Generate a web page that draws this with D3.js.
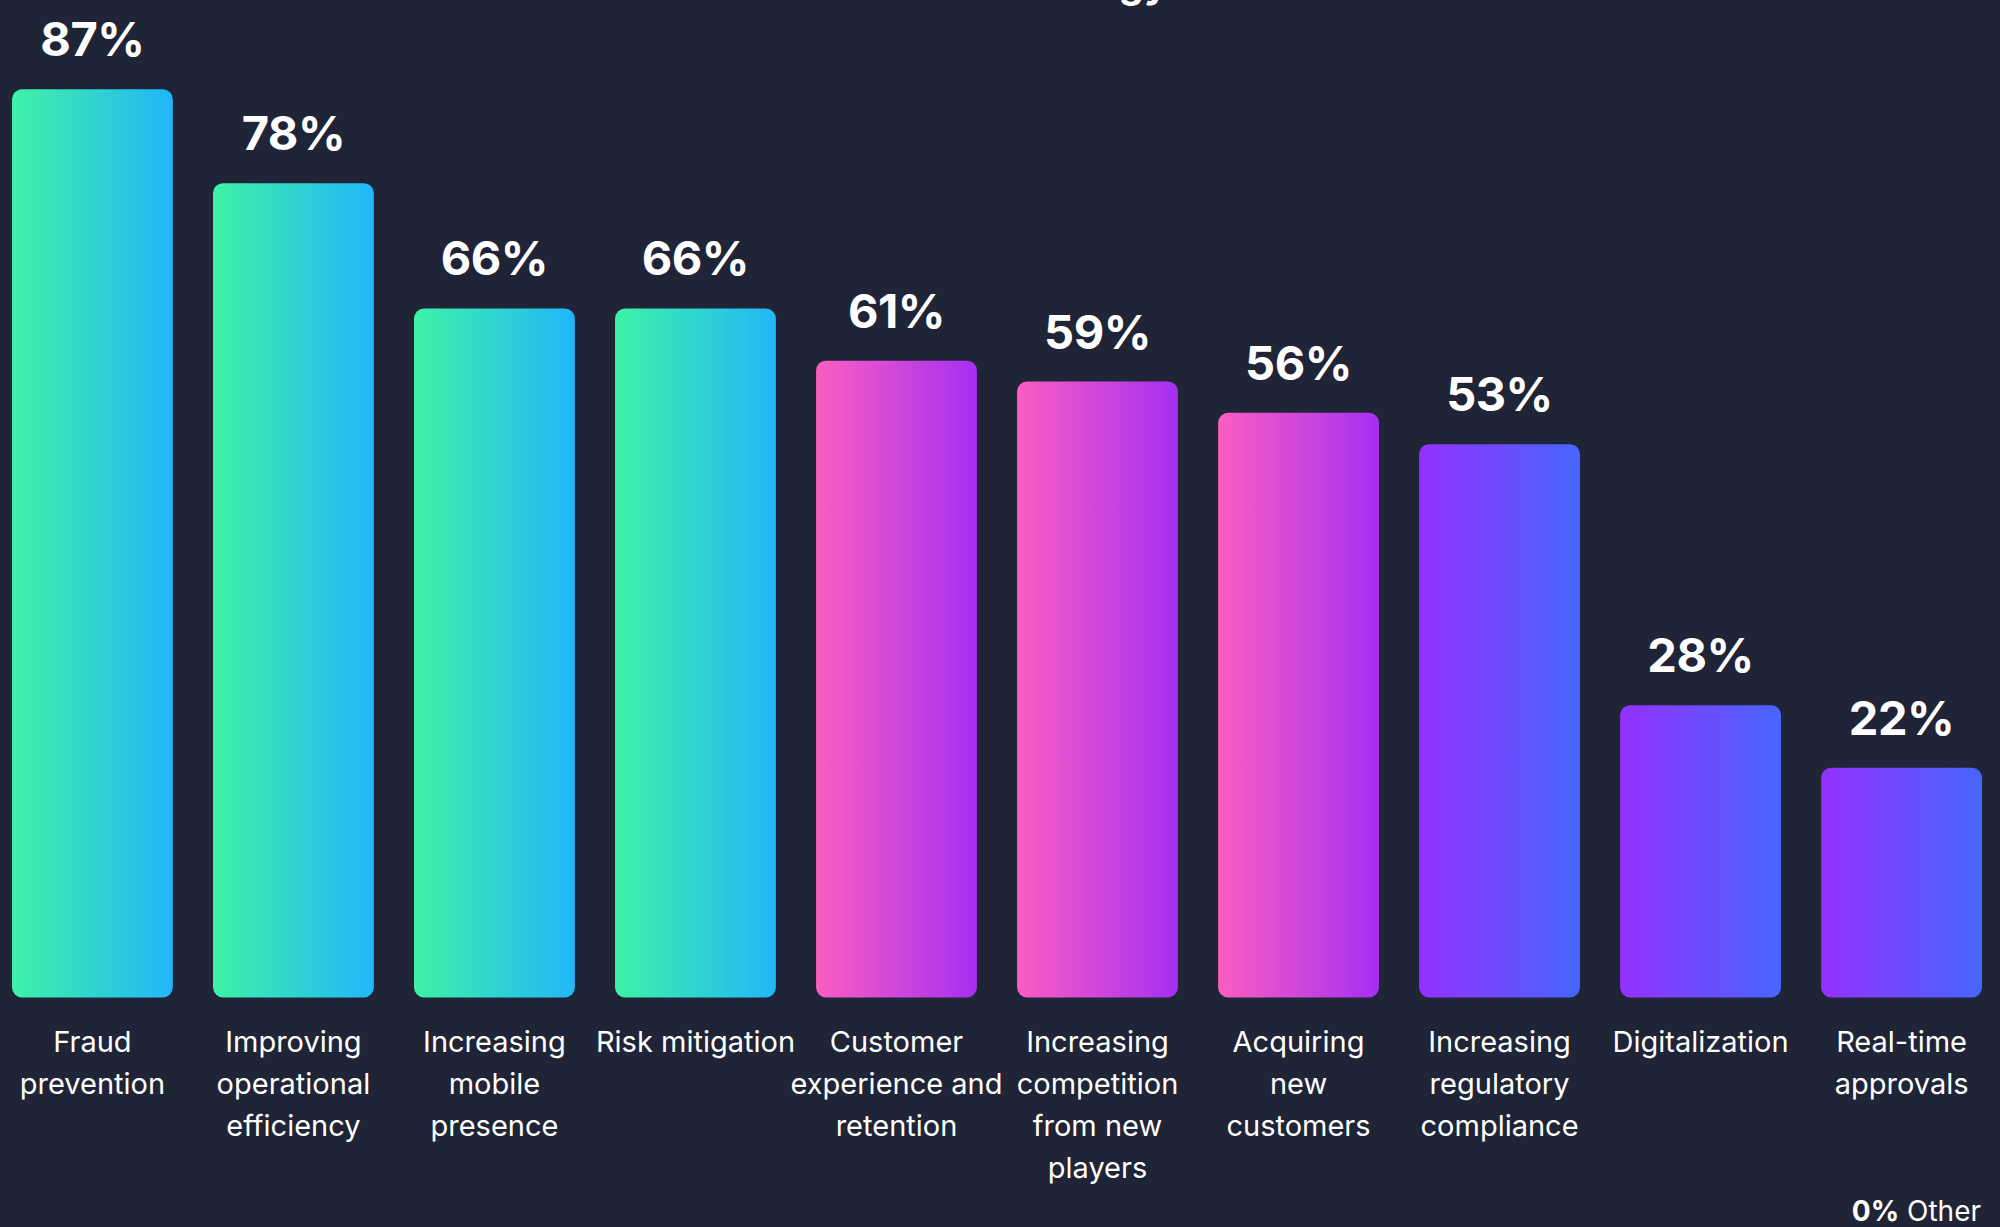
<!DOCTYPE html>
<html>
<head>
<meta charset="utf-8">
<script src="https://cdn.jsdelivr.net/npm/d3@7"></script>
<style>
  html, body { margin: 0; padding: 0; background: #1f2437; }
  svg { display: block; }
</style>
</head>
<body>
<svg id="chart" width="2000" height="1227"></svg>
<script>
// ---- data ----
const categories = [
  ["Fraud", "prevention"],
  ["Improving", "operational", "efficiency"],
  ["Increasing", "mobile", "presence"],
  ["Risk mitigation"],
  ["Customer", "experience and", "retention"],
  ["Increasing", "competition", "from new", "players"],
  ["Acquiring", "new", "customers"],
  ["Increasing", "regulatory", "compliance"],
  ["Digitalization"],
  ["Real-time", "approvals"]
];
const values = [87, 78, 66, 66, 61, 59, 56, 53, 28, 22];
const groups = ["a", "a", "a", "a", "b", "b", "b", "c", "c", "c"];
const otherValue = 0;
const otherLabel = "Other";
const titleTail = "technology";

// ---- layout ----
const W = 2000, H = 1227;
const bottom = 997.5;
const svg = d3.select("#chart");
svg.append("rect").attr("width", W).attr("height", H).attr("fill", "#1f2437");

const gradColors = {
  a: ["#3ef2a6", "#22b6fa"],
  b: ["#fb5ec2", "#a52ff3"],
  c: ["#9431ff", "#4666ff"]
};
const defs = svg.append("defs");
Object.entries(gradColors).forEach(([k, c]) => {
  const g = defs.append("linearGradient").attr("id", "grad-" + k)
    .attr("x1", "0%").attr("x2", "100%").attr("y1", "0%").attr("y2", "0%");
  g.append("stop").attr("offset", "0%").attr("stop-color", c[0]);
  g.append("stop").attr("offset", "100%").attr("stop-color", c[1]);
});

const idx = d3.range(values.length);
const x = d3.scaleBand().domain(idx).range([12, 1982]).paddingInner(0.2).paddingOuter(0);
const y = d3.scaleLinear().domain([0, 100]).range([bottom, bottom - 1044]);

// cut-off title at the very top
svg.append("text")
  .attr("x", 1168).attr("y", -3)
  .attr("text-anchor", "end")
  .attr("font-family", "Inter, sans-serif")
  .attr("font-weight", 700)
  .attr("font-size", 40)
  .attr("fill", "#ffffff")
  .text(titleTail);

// bars
svg.append("g").selectAll("rect").data(idx).join("rect")
  .attr("x", i => x(i))
  .attr("y", i => y(values[i]))
  .attr("width", x.bandwidth())
  .attr("height", i => y(0) - y(values[i]))
  .attr("rx", 10).attr("ry", 10)
  .attr("fill", i => `url(#grad-${groups[i]})`);

// value labels
svg.append("g").selectAll("text").data(idx).join("text")
  .attr("x", i => x(i) + x.bandwidth() / 2)
  .attr("y", i => y(values[i]) - 33)
  .attr("text-anchor", "middle")
  .attr("font-family", "Inter, sans-serif")
  .attr("font-weight", 700)
  .attr("font-size", 47)
  .attr("letter-spacing", -0.5)
  .attr("fill", "#ffffff")
  .text(i => values[i] + "%");

// category labels
const lab = svg.append("g").selectAll("text").data(idx).join("text")
  .attr("x", i => x(i) + x.bandwidth() / 2)
  .attr("y", 1052)
  .attr("text-anchor", "middle")
  .attr("font-family", "Inter, sans-serif")
  .attr("font-size", 29)
  .attr("fill", "#ffffff");
lab.selectAll("tspan").data(i => categories[i]).join("tspan")
  .attr("x", function () { return d3.select(this.parentNode).attr("x"); })
  .attr("dy", (d, j) => j === 0 ? 0 : 42)
  .text(d => d);

// "0% Other"
const other = svg.append("text")
  .attr("x", 1981).attr("y", 1221)
  .attr("text-anchor", "end")
  .attr("font-family", "Inter, sans-serif")
  .attr("font-size", 28)
  .attr("fill", "#ffffff");
other.append("tspan").attr("font-weight", 700).text(otherValue + "%");
other.append("tspan").text(" " + otherLabel);
</script>
</body>
</html>
